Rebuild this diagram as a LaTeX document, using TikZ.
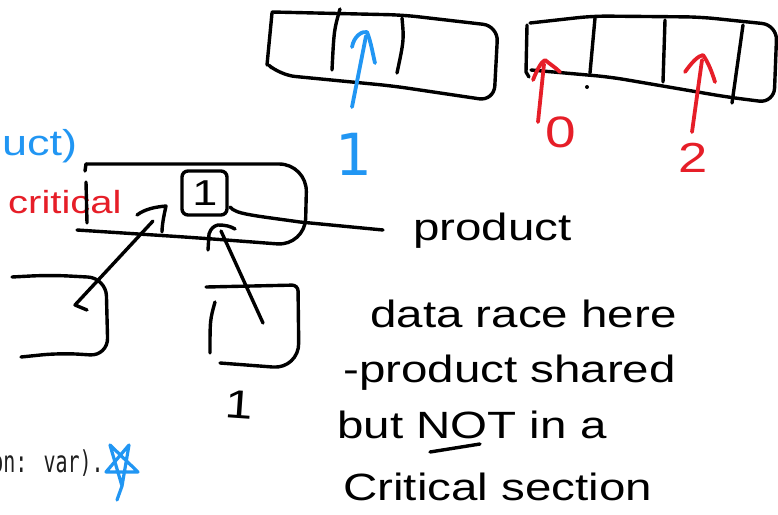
\documentclass[tikz,border=0pt]{standalone}
\usepackage{fontspec}
\newfontfamily\hand[FakeStretch=1.25]{Liberation Sans}
\newfontfamily\monof{DejaVu Sans Mono}
\newfontfamily\digitf{DejaVu Sans}
\definecolor{penblue}{RGB}{33,150,243}
\definecolor{penred}{RGB}{230,30,40}
\definecolor{inkblack}{RGB}{0,0,0}
\tikzset{
  ink/.style={draw=inkblack, line width=3.4pt, line cap=round, line join=round},
  blueink/.style={draw=penblue, line width=3.8pt, line cap=round, line join=round},
  redink/.style={draw=penred, line width=3.8pt, line cap=round, line join=round},
  handtext/.style={anchor=base west, inner sep=0pt, font={\hand\fontsize{38}{44}\selectfont}},
}
\begin{document}
\begin{tikzpicture}[x=1pt,y=-1pt]
\useasboundingbox[fill=white] (0,0) rectangle (778,514);

% ---------- top array 1 ----------
\draw[ink] (272,13) -- (267,65);
\draw[ink, rounded corners=15pt] (272,12) -- (403,15) -- (498,26) -- (494,101) -- (393,86) -- (280,75) -- (272,68);
\draw[ink] (340,9) .. controls (334,30) .. (332,70);
\draw[ink] (402,18) .. controls (404,40) .. (397,73);
\coordinate (b1tail) at (352,107);
\coordinate (b1tip) at (367,32);
\draw[blueink] (b1tail) -- (366,36);
\draw[blueink] (352,47) .. controls (354,36) and (362,31) .. (b1tip) .. controls (371,42) and (373,55) .. (375,63);
\node[anchor=base, inner sep=0pt, text=penblue, font={\digitf\fontsize{58}{60}\selectfont}] (blueone) at (354,175) {1};

% ---------- top array 2 ----------
\draw[ink] (527,25) -- (526,72) -- (529,77);
\draw[ink, rounded corners=15pt] (530,23) -- (593,16) -- (700,17) -- (777,25) -- (774,103) -- (727,97) -- (610,77) -- (531,70);
\draw[ink] (595,18) -- (590,73);
\fill[inkblack] (587,87) circle (2pt);
\draw[ink] (665,20) -- (663,82);
\draw[ink] (743,25) -- (732,103);
\coordinate (r0tail) at (538,122);
\coordinate (r0tip) at (545,60);
\draw[redink] (r0tail) -- (544,64);
\draw[redink] (533,80) .. controls (537,70) and (541,62) .. (r0tip) .. controls (550,64) and (556,68) .. (560,72);
\node[anchor=base, inner sep=0pt, text=penred, font={\hand\fontsize{44}{46}\selectfont}] (redzero) at (561,147) {0};
\coordinate (r2tail) at (692,132);
\coordinate (r2tip) at (703,55);
\draw[redink] (r2tail) -- (702,60);
\draw[redink] (685,72) .. controls (692,62) and (698,56) .. (r2tip) .. controls (708,62) and (712,72) .. (715,82);
\node[anchor=base, inner sep=0pt, text=penred, font={\hand\fontsize{42}{44}\selectfont}] (redtwo) at (693,172) {2};

% ---------- left labels ----------
\node[handtext, text=penblue, font={\hand\fontsize{36}{40}\selectfont}] (uct) at (2,155) {uct)};
\node[handtext, text=penred, font={\hand\fontsize{32}{36}\selectfont}] (crit) at (8,213) {critical};

% ---------- middle box (product) ----------
\draw[ink] (85,171) -- (86,164);
\draw[ink, rounded corners=28pt] (86,164) -- (307,164) -- (305,246) -- (200,238) -- (77,230);
\draw[ink] (86,182) -- (87,223);
\draw[ink] (182,171) [rounded corners=6pt] rectangle (227,215);
\node[anchor=base, inner sep=0pt, font={\hand\fontsize{36}{40}\selectfont}] (innerone) at (205,205) {1};
\node[handtext] (lblproduct) at (413,240) {product};
\coordinate (prodstart) at (230,207);
\coordinate (prodend) at (383,230);
\draw[ink] (prodstart) .. controls (236,214) and (250,215) .. (300,222) -- (prodend);

% ---------- bottom-left box and arrow ----------
\draw[ink, rounded corners=18pt] (12,277) -- (50,275) -- (106,278) -- (108,356) -- (60,353) -- (21,357);
\coordinate (lefttail) at (87,310);
\coordinate (lefttip) at (166,206);
\draw[ink] (lefttail) -- (75,305) -- (153,221);
\draw[ink] (137,215) .. controls (145,209) and (155,207) .. (lefttip) .. controls (164,215) and (162,225) .. (162,232);

% ---------- bottom-right box and arrow ----------
\draw[ink] [rounded corners=6pt] (206,287) -- (298,285) [rounded corners=26pt] -- (299,369) -- (220,363);
\draw[ink] (215,302) .. controls (210,320) .. (210,353);
\coordinate (righttail) at (263,323);
\coordinate (righttip) at (218,225);
\draw[ink] (righttail) -- (221,231);
\draw[ink] (208,250) -- (209,234) .. controls (211,228) and (214,226) .. (righttip) .. controls (225,225) and (230,226) .. (235,229);
\node[anchor=base, inner sep=0pt, font={\hand\fontsize{40}{44}\selectfont}, rotate=-4] (lowone) at (238,418) {1};

% ---------- notes ----------
\node[handtext] (note1) at (370,327) {data race here};
\node[handtext] (note2) at (343,382) {-product shared};
\node[handtext] (note3) at (337,438) {but NOT in a};
\node[handtext] (note4) at (343,500) {Critical section};
\draw[ink] (430,452) -- (480,444);

% ---------- code fragment and star ----------
\node[anchor=base east, inner sep=0pt, text={rgb,255:red,30;green,30;blue,30}, font={\monof\fontsize{20}{24}\selectfont}] (code) at (104,472) {\scalebox{1}[1.5]{on: var).}};
\coordinate (starE) at (122,486);
\coordinate (starB) at (129,445);
\coordinate (starD) at (106,472);
\coordinate (starC) at (138,472);
\coordinate (starA) at (110,445);
\draw[blueink, line width=3.2pt] (117,500) -- (starE) -- (starB) -- (starD) -- (starC) -- (starA) -- (starE);
\end{tikzpicture}
\end{document}
